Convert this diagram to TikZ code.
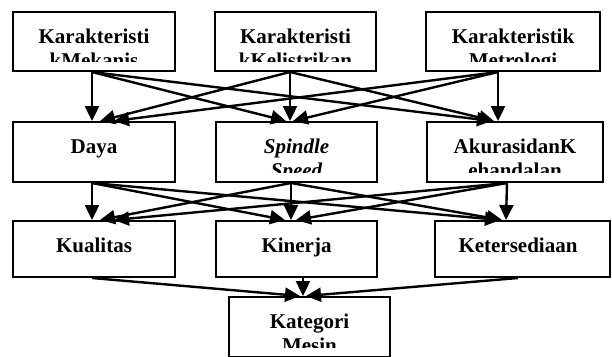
\documentclass[tikz,border=0pt]{standalone}
\usepackage{fontspec}
\setmainfont{Liberation Serif}
\usetikzlibrary{arrows.meta}
\begin{document}
\begin{tikzpicture}[x=1pt,y=-1pt,
  box/.style={draw, line width=2pt, inner sep=0pt, rectangle},
  lbl/.style={anchor=base, inner sep=0pt, font=\fontsize{21}{24}\selectfont\bfseries},
  ilbl/.style={anchor=base, inner sep=0pt, font=\fontsize{21}{24}\selectfont\bfseries\itshape},
  arr/.style={line width=2.4pt, -{Triangle[length=15pt,width=14pt]}}]
\useasboundingbox (0,0) rectangle (612,356);
\clip (0,0) rectangle (612,356);
% boxes
\node[box, minimum width=162pt, minimum height=59pt] (A) at (94,41.5) {};
\node[box, minimum width=161pt, minimum height=59pt] (B) at (295.5,41.5) {};
\node[box, minimum width=174pt, minimum height=59pt] (C) at (513,41.5) {};
\node[box, minimum width=162pt, minimum height=60pt] (D) at (94,152) {};
\node[box, minimum width=161pt, minimum height=60pt] (E) at (296.5,152) {};
\node[box, minimum width=176pt, minimum height=60pt] (F) at (515,152) {};
\node[box, minimum width=162pt, minimum height=56pt] (G) at (94,249) {};
\node[box, minimum width=161pt, minimum height=56pt] (H) at (296.5,249) {};
\node[box, minimum width=175pt, minimum height=56pt] (I) at (522.5,249) {};
\node[box, minimum width=161pt, minimum height=60pt] (J) at (309.5,327) {};
% texts row 1
\begin{scope}
\clip (0,13) rectangle (612,61);
\node[lbl] (A1) at (94,43) {Karakteristi};
\node[lbl] (A2) at (94,67) {kMekanis};
\node[lbl] (B1) at (295.5,43) {Karakteristi};
\node[lbl] (B2) at (295.5,67) {kKelistrikan};
\node[lbl] (C1) at (513,43) {Karakteristik};
\node[lbl] (C2) at (513,67) {Metrologi};
\end{scope}
% texts row 2
\begin{scope}
\clip (0,123) rectangle (612,172);
\node[lbl] (D1) at (94,153) {Daya};
\node[ilbl] (E1) at (296.5,153) {Spindle};
\node[ilbl] (E2) at (296.5,177) {Speed};
\node[lbl] (F1) at (515,153) {AkurasidanK};
\node[lbl] (F2) at (515,177) {ehandalan};
\end{scope}
% texts row 3
\node[lbl] (G1) at (94,252) {Kualitas};
\node[lbl] (H1) at (296.5,252) {Kinerja};
\node[lbl] (I1) at (518,252) {Ketersediaan};
% texts row 4
\begin{scope}
\clip (0,298) rectangle (612,347);
\node[lbl] (J1) at (309.5,328) {Kategori};
\node[lbl] (J2) at (309.5,352) {Mesin};
\end{scope}
% arrows row 1 -> row 2
\draw[arr] ([xshift=-2pt]A.south) -- ([xshift=-2pt]D.north);
\draw[arr] ([xshift=-2pt]A.south) -- ([xshift=-10.5pt]E.north);
\draw[arr] ([xshift=-2pt]A.south) -- ([xshift=-23pt]F.north);
\draw[arr] ([xshift=-5.5pt]B.south) -- ([xshift=6pt]D.north);
\draw[arr] ([xshift=-5.5pt]B.south) -- ([xshift=-6.5pt]E.north);
\draw[arr] ([xshift=-5.5pt]B.south) -- ([xshift=-21pt]F.north);
\draw[arr] ([xshift=-15pt]C.south) -- ([xshift=20pt]D.north);
\draw[arr] ([xshift=-15pt]C.south) -- ([xshift=-3.5pt]E.north);
\draw[arr] ([xshift=-15pt]C.south) -- ([xshift=-17pt]F.north);
% arrows row 2 -> row 3
\draw[arr] ([xshift=-2pt]D.south) -- ([xshift=-2pt]G.north);
\draw[arr] ([xshift=-2pt]D.south) -- ([xshift=-11.5pt]H.north);
\draw[arr] ([xshift=-2pt]D.south) -- ([xshift=-22.5pt]I.north);
\draw[arr] ([xshift=-5.5pt]E.south) -- ([xshift=6pt]G.north);
\draw[arr] ([xshift=-5.5pt]E.south) -- ([xshift=-5.5pt]H.north);
\draw[arr] ([xshift=-5.5pt]E.south) -- ([xshift=-20.5pt]I.north);
\draw[arr] ([xshift=-8pt]F.south) -- ([xshift=20pt]G.north);
\draw[arr] ([xshift=-8pt]F.south) -- ([xshift=-0.5pt]H.north);
\draw[arr] ([xshift=-8pt]F.south) -- ([xshift=-16.5pt]I.north);
% arrows row 3 -> row 4
\draw[arr] ([xshift=-2pt]G.south) -- ([xshift=-9.5pt]J.north);
\draw[arr] ([xshift=6.5pt]H.south) -- ([xshift=-6.5pt]J.north);
\draw[arr] ([xshift=-4.5pt]I.south) -- ([xshift=-3.5pt]J.north);
\end{tikzpicture}
\end{document}
